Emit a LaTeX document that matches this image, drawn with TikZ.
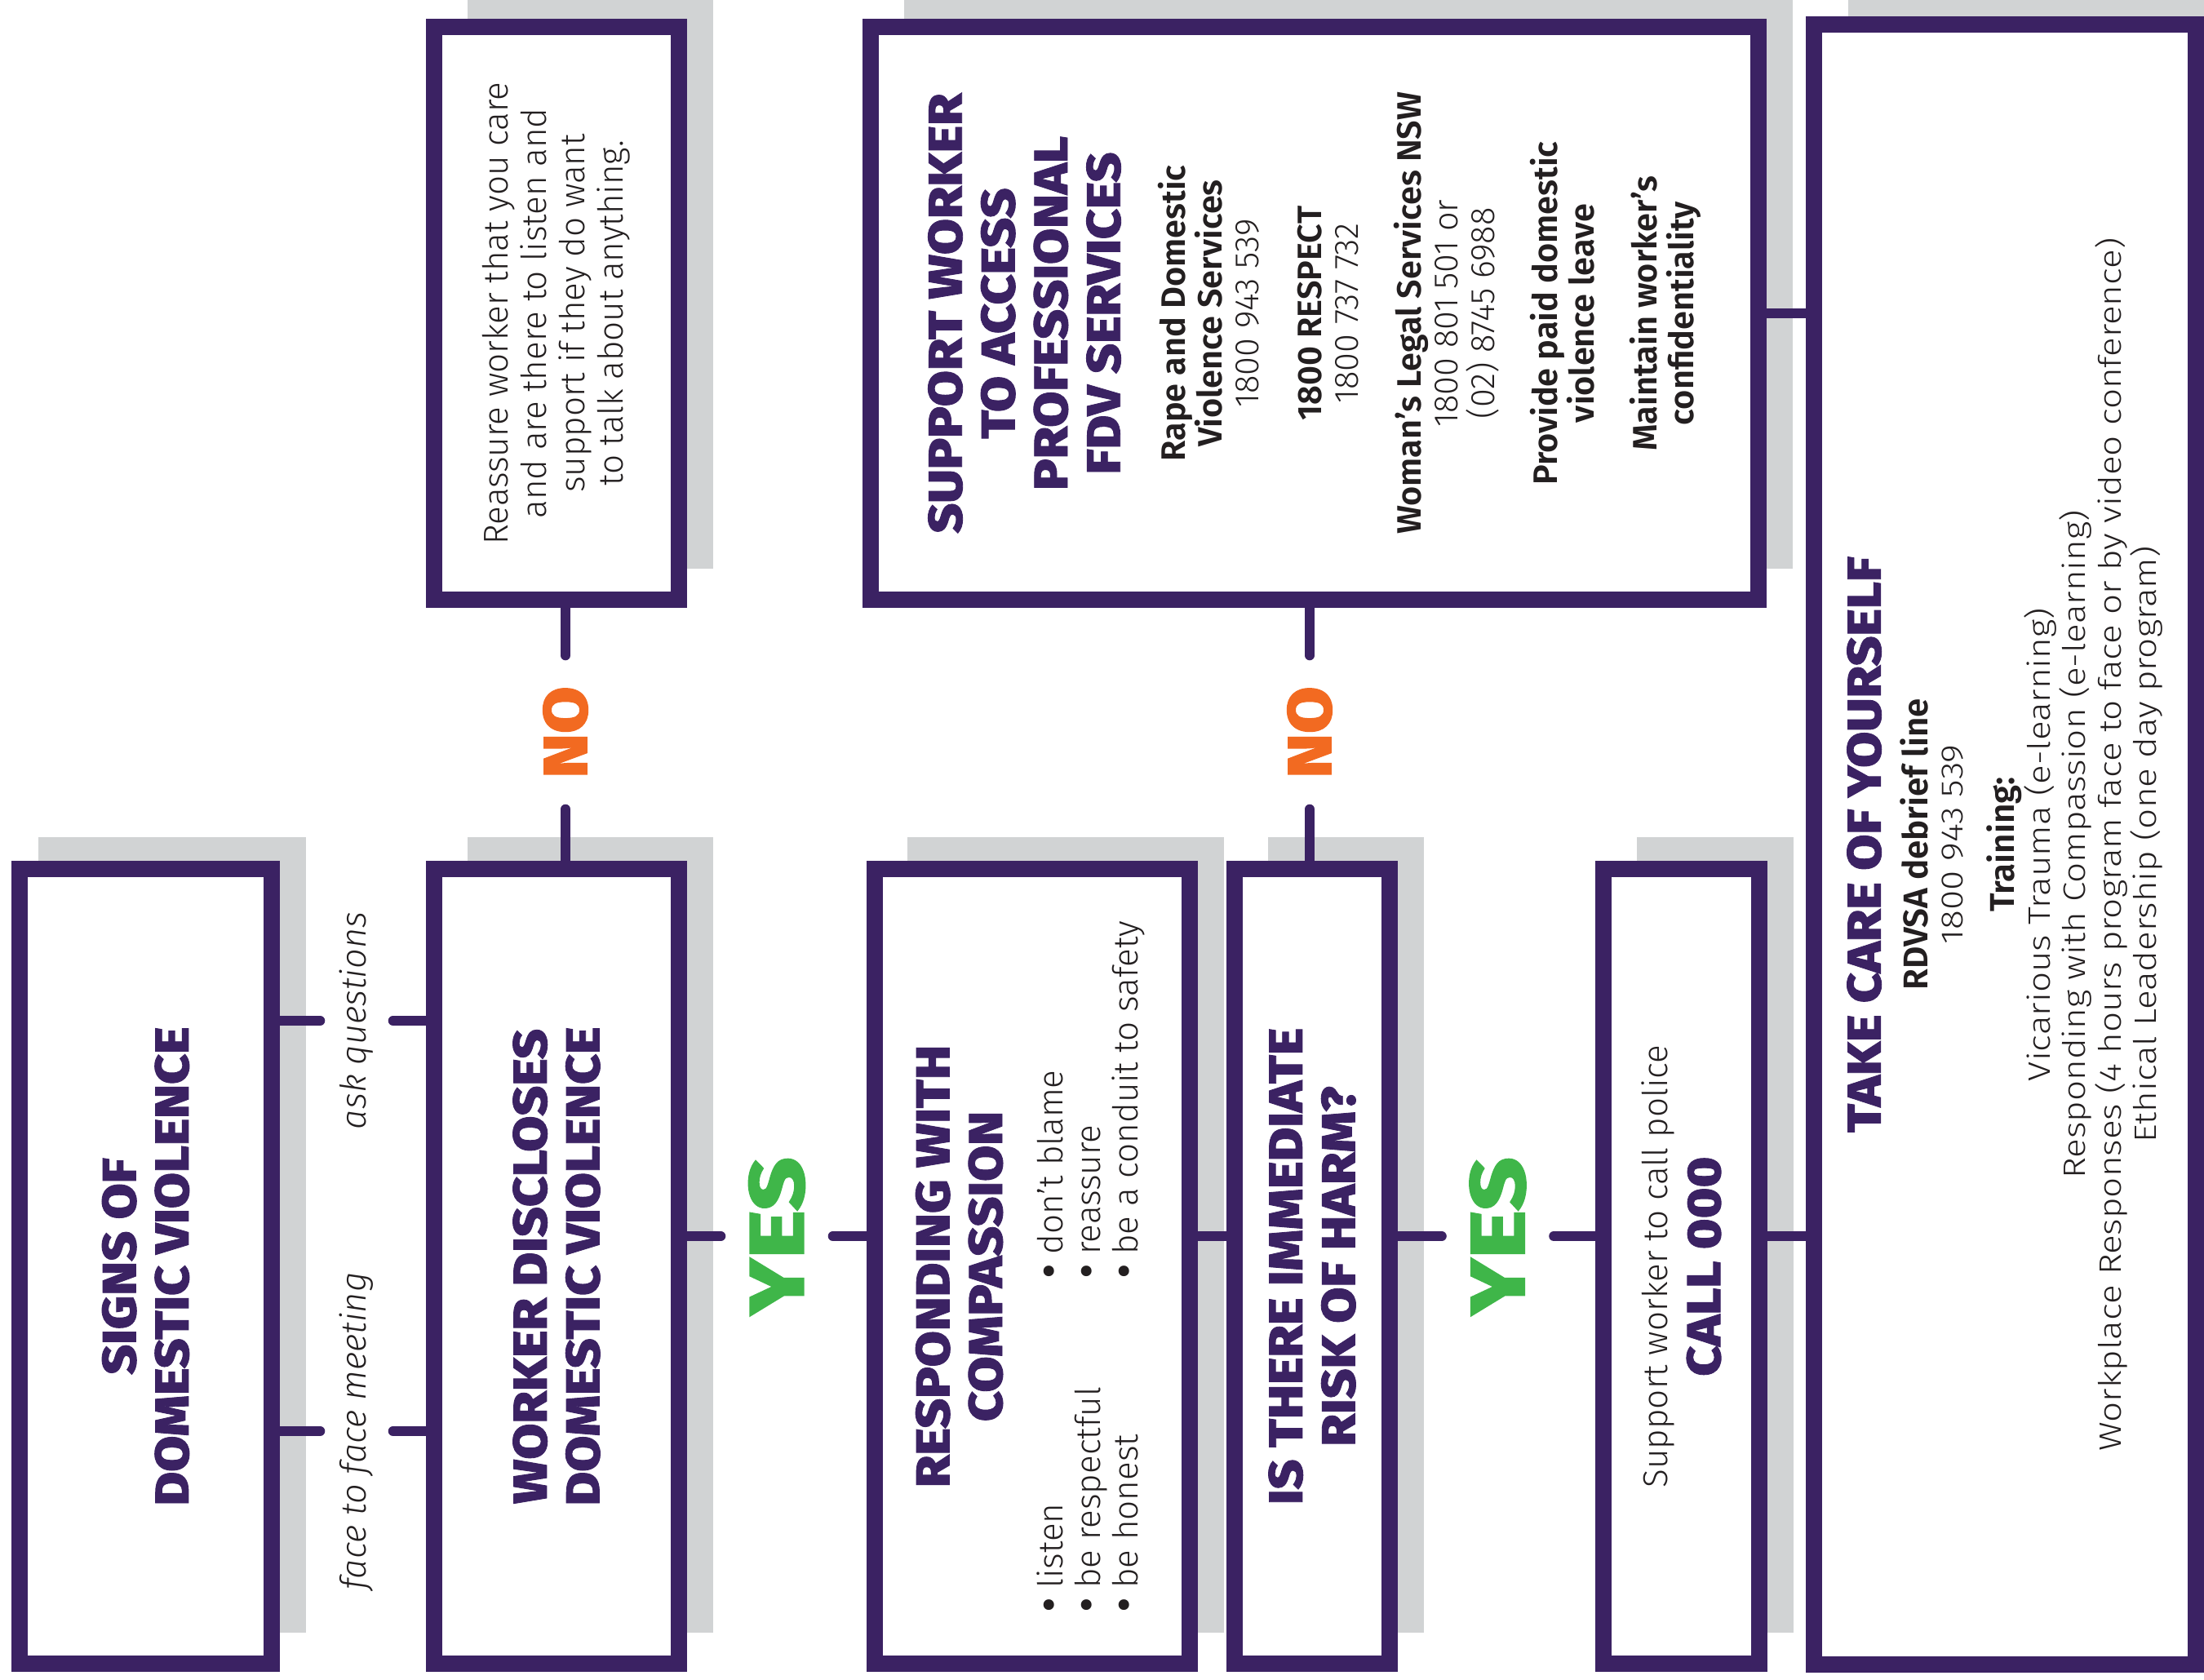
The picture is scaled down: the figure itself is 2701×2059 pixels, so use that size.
\documentclass[tikz,border=0pt]{standalone}
\usepackage{fontspec}
\usepackage{graphicx}
\setmainfont{Fira Sans Light}[BoldFont={Fira Sans SemiBold},ItalicFont={Fira Sans Light Italic}]
\newfontfamily\heavyfont{Fira Sans ExtraBold}[FakeStretch=1.1,FakeBold=1.5]
\newfontfamily\answerfont{Fira Sans ExtraBold}[FakeStretch=1.2,FakeBold=1.5]
\newfontfamily\semifont{Fira Sans SemiBold}
\newfontfamily\widefont{Fira Sans Light}[FakeStretch=1.16]
\usetikzlibrary{backgrounds}

\definecolor{dvPurple}{HTML}{3B2263}
\definecolor{dvShade}{HTML}{D1D3D4}
\definecolor{dvGreen}{HTML}{3FB649}
\definecolor{dvOrange}{HTML}{F26A21}
\definecolor{ink}{HTML}{231F20}

\newcommand{\HeadFont}{\heavyfont\fontsize{16.5}{18.4}\selectfont\color{dvPurple}}
\newcommand{\BodyFont}{\normalfont\fontsize{12}{13.4}\selectfont\color{ink}}
\newcommand{\ListFont}{\normalfont\fontsize{12}{13.1}\selectfont\color{ink}}
\newcommand{\SubFont}{\semifont\fontsize{11.8}{12.8}\selectfont\color{ink}}
\newcommand{\NumFont}{\normalfont\fontsize{11.8}{12.8}\selectfont}
\newcommand{\CareSub}{\semifont\fontsize{12}{12.4}\selectfont\color{ink}}
\newcommand{\CareBody}{\widefont\fontsize{10.8}{12.4}\selectfont}
\newcommand{\AskFont}{\normalfont\itshape\fontsize{12.3}{14}\selectfont}
\newcommand{\YesFont}{\answerfont\fontsize{27}{27}\selectfont}
\newcommand{\NoFont}{\heavyfont\fontsize{21.5}{21.5}\selectfont}
\newcommand{\Bul}{{\semifont\fontsize{14}{13}\selectfont •}}
\newcommand{\VText}[2]{\rotatebox{90}{\begin{minipage}{#1}\lineskiplimit=-10pt\centering #2\end{minipage}}}

\tikzset{
  box/.style={draw=dvPurple, line width=2mm, fill=white, inner sep=0pt},
  link/.style={draw=dvPurple, line width=1.2mm, line cap=round},
  turned/.style={rotate=90, inner sep=0pt},
  asklabel/.style={turned, font=\AskFont, text=ink, minimum height=8.8mm},
  yeslabel/.style={turned, font=\YesFont, text=dvGreen, minimum height=13.6mm},
  nolabel/.style={turned, font=\NoFont, text=dvOrange, minimum width=18.7mm},
}

\begin{document}
\begin{tikzpicture}[x=0.1mm,y=-0.1mm]
  \useasboundingbox (0,0) rectangle (2701,2059);

  % lower row
  \node[box, minimum width=30.9mm, minimum height=97.4mm] (signs) at (178.5,1552)
    {\VText{80mm}{\HeadFont SIGNS OF\\DOMESTIC VIOLENCE}};
  \node[box, minimum width=30mm, minimum height=97.4mm] (worker) at (682,1552)
    {\VText{80mm}{\HeadFont WORKER DISCLOSES\\DOMESTIC VIOLENCE}};
  \node[box, minimum width=38.6mm, minimum height=97.4mm] (respond) at (1265,1552)
    {\VText{92mm}{\HeadFont RESPONDING WITH\\COMPASSION\par\vspace{2.8mm}%
      \ListFont\begin{tabular}[t]{@{}p{40.9mm}@{}l@{}}
        \Bul\ listen & \Bul\ don’t blame\\
        \Bul\ be respectful & \Bul\ reassure\\
        \Bul\ be honest & \Bul\ be a conduit to safety
      \end{tabular}}};
  \node[box, minimum width=19mm, minimum height=97.4mm] (risk) at (1608,1552)
    {\VText{80mm}{\HeadFont IS THERE IMMEDIATE\\RISK OF HARM?}};
  \node[box, minimum width=19.1mm, minimum height=97.4mm] (call) at (2060.5,1552)
    {\VText{80mm}{\BodyFont Support worker to call police\\\HeadFont CALL 000}};

  % upper row
  \node[box, minimum width=30mm, minimum height=70.2mm] (reassure) at (682,384)
    {\VText{66mm}{\BodyFont Reassure worker that you care\\and are there to listen and\\support if they do want\\to talk about anything.}};
  \node[box, minimum width=108.8mm, minimum height=70.2mm] (fdv) at (1611,384)
    {\VText{68mm}{\HeadFont SUPPORT WORKER\\TO ACCESS\\PROFESSIONAL\\FDV SERVICES\par\vspace{3.5mm}%
      \SubFont Rape and Domestic\\Violence Services\\{\NumFont 1800 943 539}\\[3.2mm]
      1800 RESPECT\\{\NumFont 1800 737 732}\\[3.2mm]
      Woman’s Legal Services NSW\\{\NumFont 1800 801 501 or\\(02) 8745 6988}\\[3.2mm]
      Provide paid domestic\\violence leave\\[3.2mm]
      Maintain worker’s\\confidentiality}};

  % right column
  \node[box, minimum width=46.8mm, minimum height=201mm] (care) at (2457,1035)
    {\VText{190mm}{\HeadFont TAKE CARE OF YOURSELF\par\vspace{1.4mm}%
      \CareSub RDVSA debrief line\\{\CareBody 1800 943 539}\\[1.9mm]
      Training:\\{\CareBody Vicarious Trauma (e-learning)\\Responding with Compassion (e-learning)\\
      Workplace Responses (4 hours program face to face or by video conference)\\
      Ethical Leadership (one day program)}}};

  % shadows
  \begin{scope}[on background layer]
    \foreach \b/\dx in {signs/3.3, worker/5.1, reassure/5.1, respond/5.0, risk/5.1, fdv/5.1, call/5.1, care/5.2}
      \fill[dvShade] ([xshift=\dx mm,yshift=2.9mm]\b.north west) rectangle ([xshift=3.2mm,yshift=4.8mm]\b.south east);
  \end{scope}

  % answers
  \node[asklabel] (ask) at (437,1251) {ask questions};
  \node[asklabel] (face) at (437,1754) {face to face meeting};
  \node[yeslabel] (yes1) at (952,1515) {YES};
  \node[yeslabel] (yes2) at (1835.5,1515) {YES};
  \node[nolabel] (no1) at (693,897.5) {NO};
  \node[nolabel] (no2) at (1605,897.5) {NO};

  % links
  \draw[link] (signs.east |- ask) -- (ask);
  \draw[link] (ask) -- (worker.west |- ask);
  \draw[link] (signs.east |- face) -- (face);
  \draw[link] (face) -- (worker.west |- face);
  \draw[link] (worker.north -| no1) -- (no1);
  \draw[link] (no1) -- (reassure.south -| no1);
  \draw[link] (worker.east |- yes1) -- (yes1);
  \draw[link] (yes1) -- (respond.west |- yes1);
  \draw[link] (respond.east |- yes1) -- (risk.west |- yes1);
  \draw[link] (risk.north -| no2) -- (no2);
  \draw[link] (no2) -- (fdv.south -| no2);
  \draw[link] (risk.east |- yes2) -- (yes2);
  \draw[link] (yes2) -- (call.west |- yes2);
  \draw[link] (call.east |- yes2) -- (care.west |- yes2);
  \draw[link] (fdv.east) -- (care.west |- fdv.east);
\end{tikzpicture}
\end{document}
